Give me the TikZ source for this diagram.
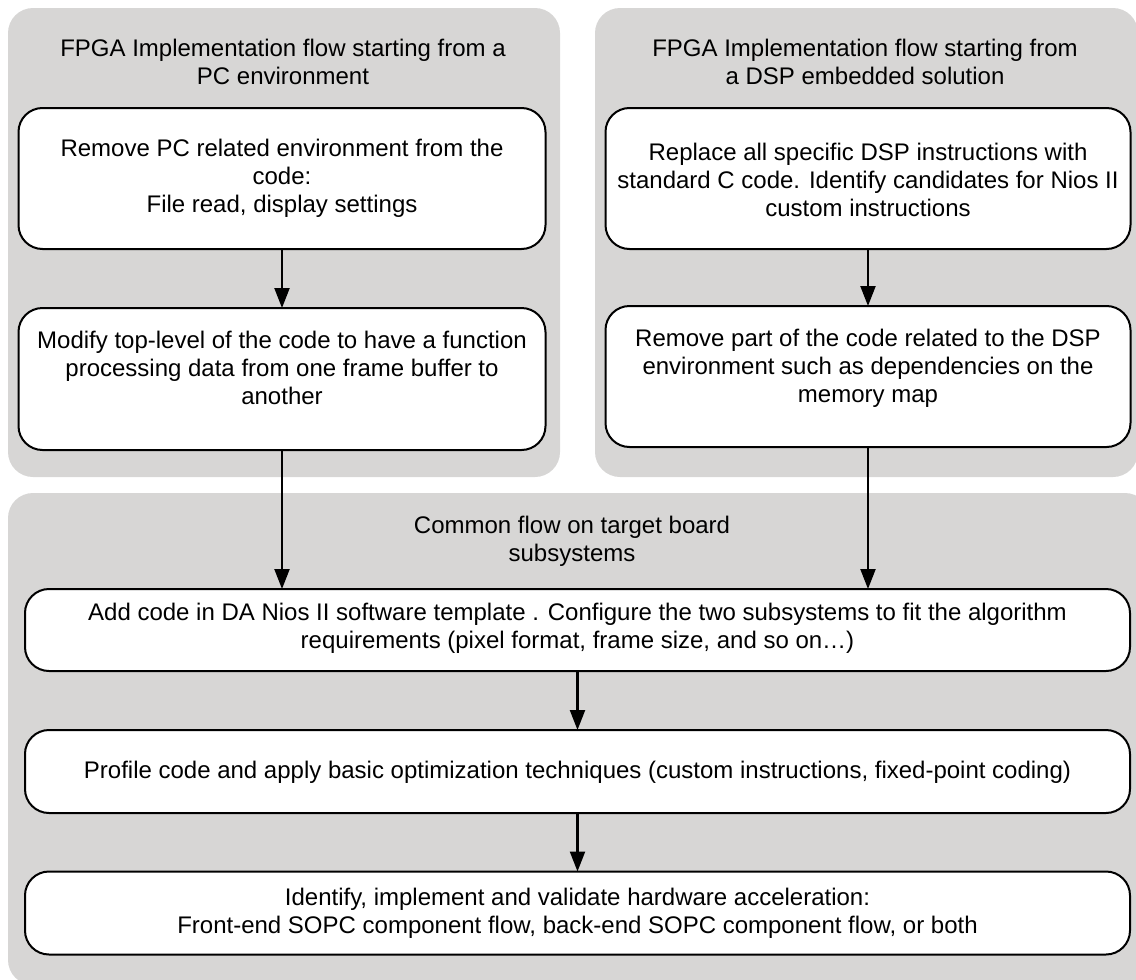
\documentclass[tikz,border=0pt]{standalone}
\usepackage{fontspec}
\setmainfont{Liberation Sans}
\usetikzlibrary{arrows.meta}
\definecolor{panelgray}{RGB}{215,214,213}
\begin{document}
\begin{tikzpicture}[x=1pt,y=-1pt,
  panel/.style={fill=panelgray, rounded corners=25pt, inner sep=0pt, outer sep=0pt},
  box/.style={draw=black, line width=2pt, fill=white, rounded corners=24pt, inner sep=0pt, outer sep=0pt},
  txt/.style={align=center, font=\fontsize{24}{28}\selectfont, inner sep=0pt},
  arr/.style={line width=2.2pt, -{Triangle[width=15pt,length=20pt]}}]
\clip (0,0) rectangle (1136,980);
% panels
\node[panel, minimum width=552pt, minimum height=469pt] (pl) at (284,242.5) {};
\node[panel, minimum width=543pt, minimum height=469pt] (pr) at (866.5,242.5) {};
\node[panel, minimum width=1142pt, minimum height=492pt] (pb) at (579,739) {};
% titles
\node[txt] (tl) at (283,62) {FPGA Implementation flow starting from a\\PC environment};
\node[txt] (tr) at (865,62) {FPGA Implementation flow starting from\\a DSP embedded solution};
\node[txt] (tb) at (572,541) {Common flow on target board\\subsystems};
% boxes
\node[box, minimum width=527pt, minimum height=141pt] (l1) at (282,178.5) {};
\node[box, minimum width=527pt, minimum height=142pt] (l2) at (282,379) {};
\node[box, minimum width=525pt, minimum height=141pt] (r1) at (868,178.5) {};
\node[box, minimum width=525pt, minimum height=141pt] (r2) at (868,376.5) {};
\node[box, minimum width=1105pt, minimum height=82pt] (a) at (577.5,630) {};
\node[box, minimum width=1105pt, minimum height=83pt] (b) at (577.5,771.5) {};
\node[box, minimum width=1105pt, minimum height=83pt] (c) at (577.5,913) {};
% texts
\node[txt] (l1t) at (l1.center) {Remove PC related environment from the\\code:\\File read, display settings};
\node[txt] (l2t) at (282,368) {Modify top-level of the code to have a function\\processing data from one frame buffer to\\another};
\node[txt] (r1t) at (868,180) {Replace all specific DSP instructions with\\standard C code. Identify candidates for Nios II\\custom instructions};
\node[txt] (r2t) at (868,368) {Remove part of the code related to the DSP\\environment such as dependencies on the\\memory map};
\node[txt] (at) at (577.5,628) {Add code in DA Nios II software template . Configure the two subsystems to fit the algorithm\\requirements (pixel format, frame size, and so on\ldots)};
\node[txt] (bt) at (577.5,772) {Profile code and apply basic optimization techniques (custom instructions, fixed-point coding)};
\node[txt] (ct) at (577.5,913) {Identify, implement and validate hardware acceleration:\\Front-end SOPC component flow, back-end SOPC component flow, or both};
% arrows
\draw[arr] (l1.south) -- (l2.north);
\draw[arr] (r1.south) -- (r2.north);
\draw[arr] (l2.south) -- (l2.south |- a.north);
\draw[arr] (r2.south) -- (r2.south |- a.north);
\draw[arr] (a.south) -- (b.north);
\draw[arr] (b.south) -- (c.north);
\end{tikzpicture}
\end{document}
